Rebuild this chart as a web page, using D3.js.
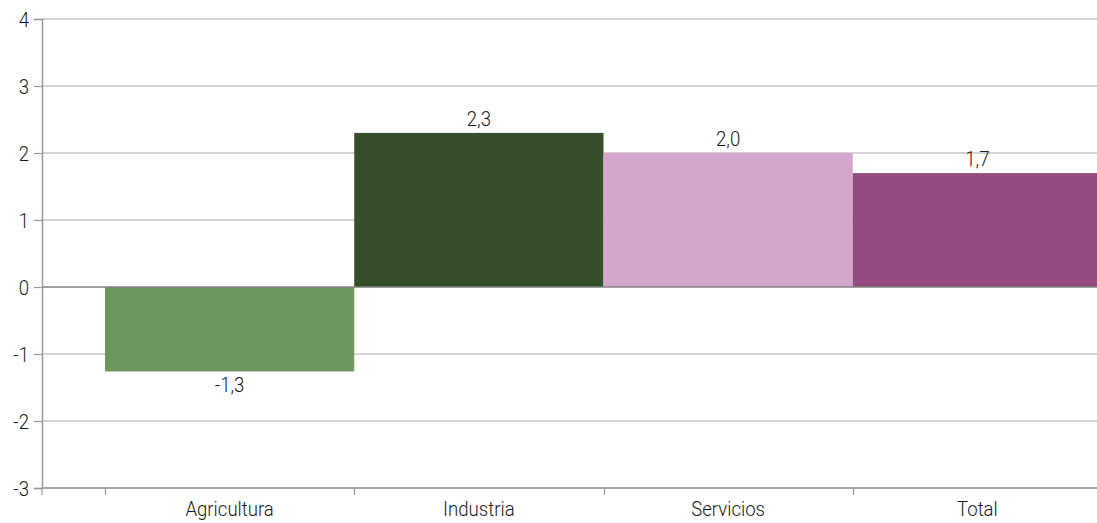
<!DOCTYPE html>
<html><head><meta charset="utf-8">
<script src="https://cdn.jsdelivr.net/npm/d3@7"></script>
<style>
html,body{margin:0;padding:0;background:#fff;}
svg{display:block;}
text{font-family:"Roboto","Liberation Sans",sans-serif;font-weight:300;fill:#1a1a1a;}
</style></head>
<body>
<svg id="chart" width="1097" height="523"></svg>
<script>
const categories = ["Agricultura", "Industria", "Servicios", "Total"];
const values = [-1.26, 2.3, 2.0, 1.7];
const colors = ["#6f975c", "#354f2a", "#d4a5cc", "#944c7e"];
const yTicks = [-3, -2, -1, 0, 1, 2, 3, 4];

const svg = d3.select("#chart");
const W = 1097;
const x0 = 42;
const SX = 0.93;
const FS = "20px";
const y = d3.scaleLinear().domain([-3, 4]).range([488, 19]);
const x = d3.scaleBand().domain(categories).range([105, 1102]).padding(0);
const fmt = v => d3.format(".1f")(v).replace(".", ",").replace("\u2212", "-");

// gridlines
svg.append("g").selectAll("line").data(yTicks.filter(d => d !== 0 && d !== -3)).join("line")
  .attr("x1", x0).attr("x2", W).attr("y1", d => y(d)).attr("y2", d => y(d))
  .attr("stroke", "#c4c4c4").attr("stroke-width", 1.5);

// bars
svg.append("g").selectAll("rect").data(categories).join("rect")
  .attr("x", d => x(d)).attr("width", x.bandwidth())
  .attr("y", (d, i) => y(Math.max(0, values[i])))
  .attr("height", (d, i) => Math.abs(y(values[i]) - y(0)))
  .attr("fill", (d, i) => colors[i]);

// zero line
svg.append("line").attr("x1", x0).attr("x2", W).attr("y1", y(0)).attr("y2", y(0))
  .attr("stroke", "#808080").attr("stroke-width", 1.5);

// bottom axis line
svg.append("line").attr("x1", x0).attr("x2", W).attr("y1", y(-3)).attr("y2", y(-3))
  .attr("stroke", "#a6a6a6").attr("stroke-width", 2);

// y axis
const yAxis = d3.axisLeft(y).tickValues(yTicks).tickSize(8).tickFormat(() => "");
const gy = svg.append("g").attr("transform", `translate(${x0},0)`).call(yAxis);
gy.select(".domain").attr("stroke", "#999").attr("stroke-width", 1.5);
gy.selectAll(".tick line").attr("stroke", "#999").attr("stroke-width", 1.2);
gy.selectAll(".tick").append("text")
  .attr("transform", `translate(-13,7) scale(${SX},1)`)
  .attr("text-anchor", "end").attr("fill", "#1a1a1a")
  .style("font-size", FS).text(d => String(d));

// x category ticks at band boundaries
svg.append("g").selectAll("line").data(categories).join("line")
  .attr("x1", d => Math.round(x(d)) + 0.5).attr("x2", d => Math.round(x(d)) + 0.5)
  .attr("y1", y(-3)).attr("y2", y(-3) + 7)
  .attr("stroke", "#999").attr("stroke-width", 1.2);
svg.append("line")
  .attr("x1", x0).attr("x2", x0).attr("y1", y(-3)).attr("y2", y(-3) + 7)
  .attr("stroke", "#999").attr("stroke-width", 1.2);

// category labels
svg.append("g").selectAll("text").data(categories).join("text")
  .attr("transform", d => `translate(${x(d) + x.bandwidth() / 2},516) scale(${SX},1)`)
  .attr("text-anchor", "middle").style("font-size", FS).text(d => d);

// value labels
svg.append("g").selectAll("text").data(categories).join("text")
  .attr("transform", (d, i) => `translate(${x(d) + x.bandwidth() / 2},${values[i] >= 0 ? y(values[i]) - 7 : y(values[i]) + 21}) scale(${SX},1)`)
  .attr("text-anchor", "middle").style("font-size", FS).text((d, i) => fmt(values[i]));
</script>
</body></html>
